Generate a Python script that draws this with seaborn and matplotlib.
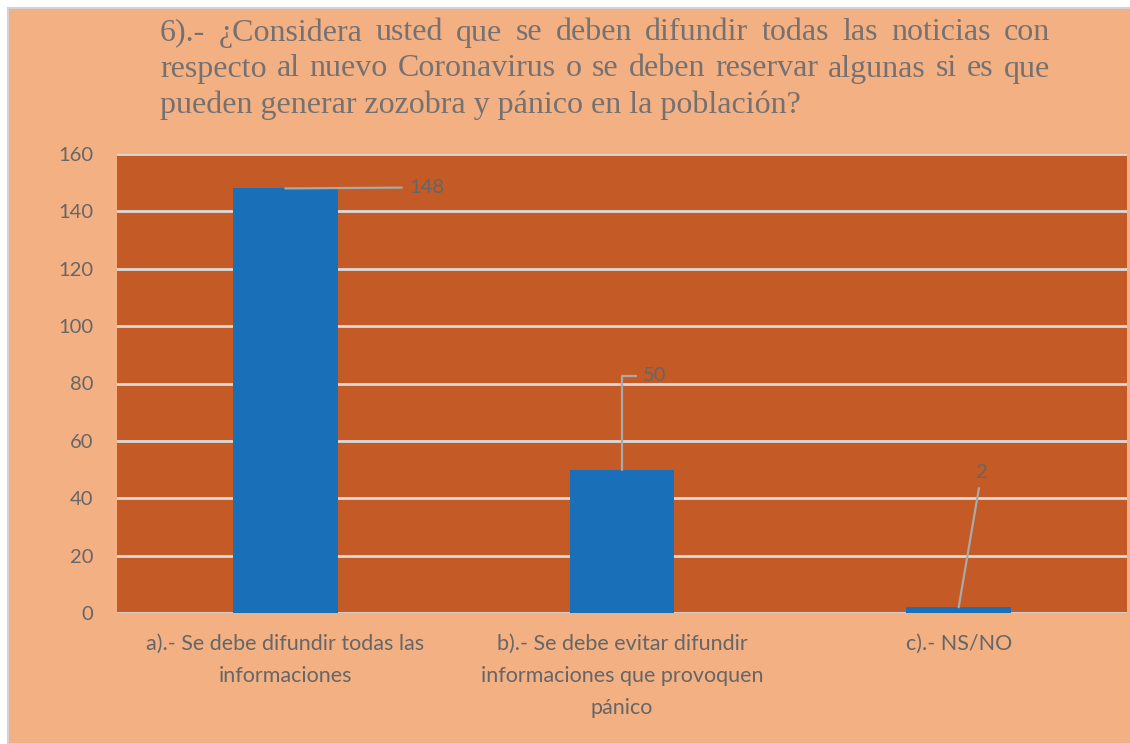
import matplotlib
matplotlib.use("Agg")
import matplotlib.pyplot as plt
import seaborn as sns
import pandas as pd
from matplotlib.patches import Rectangle

# data
categories = [
    "a).- Se debe difundir todas las\ninformaciones",
    "b).- Se debe evitar difundir\ninformaciones que provoquen\npánico",
    "c).- NS/NO",
]
values = [148, 50, 2]
title_lines = [
    "6).- ¿Considera usted que se deben difundir todas las noticias con",
    "respecto al nuevo Coronavirus o se deben reservar algunas si es que",
    "pueden generar zozobra y pánico en la población?",
]

sns.set_style("whitegrid")
plt.rcParams['font.family'] = ['Lato', 'DejaVu Sans']

BG = "#F3B083"
PLOT_BG = "#C45A25"
BAR = "#1A70B8"
GRID = "#D9D9D9"
TXT = "#666666"

fig = plt.figure(figsize=(11.3, 7.44), dpi=100)
fig.patch.set_facecolor("white")
fig.patches.append(Rectangle((8 / 1130, 0), 1, 1 - 8 / 744, transform=fig.transFigure,
                             facecolor=BG, edgecolor="#D3D3D3", linewidth=1.5, zorder=-10))

ax = fig.add_axes([117 / 1130, 131 / 744, 1010 / 1130, 459 / 744])
df = pd.DataFrame({"cat": categories, "val": values})
sns.barplot(data=df, x="cat", y="val", color=BAR, width=0.31, saturation=1,
            linewidth=0, edgecolor=BAR, ax=ax, zorder=3)

ax.set_facecolor(PLOT_BG)
ax.set_ylim(0, 160)
ax.set_xlim(-0.5, 2.5)
ax.set_yticks(range(0, 161, 20))
ax.grid(axis="y", color=GRID, linewidth=2, zorder=1)
ax.grid(axis="x", visible=False)
ax.set_axisbelow(True)
for s in ax.spines.values():
    s.set_visible(False)
ax.set_xlabel("")
ax.set_ylabel("")
ax.tick_params(axis="y", length=0, pad=17, labelsize=14.5, labelcolor=TXT)
ax.tick_params(axis="x", length=0, pad=15, labelsize=15.5, labelcolor=TXT)
for lab in ax.get_xticklabels():
    lab.set_linespacing(1.75)
    lab.set_verticalalignment("top")

# data labels with leader lines
line_kw = dict(arrowstyle="-", color="#A9A9A9", linewidth=1.6, shrinkA=3, shrinkB=0)
ax.annotate(str(values[0]), xy=(0, values[0]), xytext=(124, 1), textcoords="offset pixels",
            ha="left", va="center", fontsize=14.5, color=TXT,
            arrowprops=dict(**line_kw))
ax.annotate(str(values[1]), xy=(1, values[1]), xytext=(21, 94), textcoords="offset pixels",
            ha="left", va="center", fontsize=14.5, color=TXT,
            arrowprops=dict(connectionstyle="angle,angleA=0,angleB=90,rad=0", **line_kw))
ax.annotate(str(values[2]), xy=(2, values[2]), xytext=(23, 135), textcoords="offset pixels",
            ha="center", va="center", fontsize=14.5, color=TXT,
            arrowprops=dict(**line_kw))

# justified serif title
renderer = fig.canvas.get_renderer()
x0, x1 = 160 / 1130, 1050 / 1130
ys = [33, 69, 105]
for i, line in enumerate(title_lines):
    y = 1 - ys[i] / 744
    kw = dict(fontsize=23, color="#767171", family="Liberation Serif", va="center", ha="left")
    if i == len(title_lines) - 1:
        fig.text(x0, y, line, **kw)
        continue
    words = line.split(" ")
    texts = [fig.text(0, y, w, **kw) for w in words]
    widths = [t.get_window_extent(renderer).width / 1130 for t in texts]
    gap = (x1 - x0 - sum(widths)) / (len(words) - 1)
    x = x0
    for t, w in zip(texts, widths):
        t.set_x(x)
        x += w + gap

fig.savefig("out.png", dpi=100, facecolor=fig.get_facecolor())
